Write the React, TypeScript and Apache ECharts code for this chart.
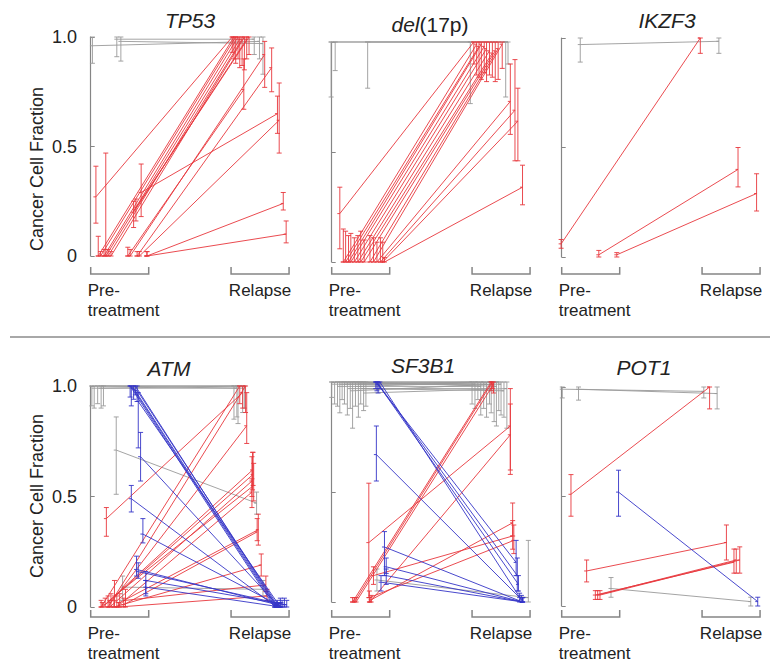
import React, { useEffect, useRef } from "react";
import * as echarts from "echarts";

// Each row: [preX, preCCF, preLow, preHigh, relX, relCCF, relLow, relHigh]
// preX / relX are jitter positions inside the Pre-treatment / Relapse brackets (0..1)
const TP53_GRAY = [
  [0.03, 0.96, 0.88, 1.0, 0.49, 0.98, 0.9, 1.0],
  [0.45, 0.99, 0.91, 1.0, 0.4, 0.99, 0.92, 1.0],
  [0.52, 0.98, 0.89, 1.0, 0.55, 0.97, 0.83, 1.0],
];
const TP53_RED = [
  [0.09, 0.27, 0.15, 0.41, 0.02, 1.0, 0.93, 1.0],
  [0.13, 0, 0, 0.09, 0.05, 1.0, 0.9, 1.0],
  [0.17, 0, 0, 0.02, 0.08, 1.0, 0.88, 1.0],
  [0.23, 0, 0, 0.03, 0.12, 1.0, 0.9, 1.0],
  [0.26, 0, 0, 0.47, 0.15, 0.99, 0.86, 1.0],
  [0.3, 0, 0, 0.03, 0.19, 0.99, 0.87, 1.0],
  [0.35, 0, 0, 0.02, 0.23, 1.0, 0.85, 1.0],
  [0.74, 0.2, 0.13, 0.25, 0.27, 0.99, 0.9, 1.0],
  [0.78, 0.22, 0.16, 0.26, 0.31, 1.0, 0.92, 1.0],
  [0.64, 0, 0, 0.04, 0.22, 0.76, 0.67, 0.9],
  [0.68, 0, 0, 0.03, 0.58, 0.92, 0.77, 0.98],
  [0.8, 0, 0, 0.02, 0.7, 0.86, 0.75, 0.95],
  [0.87, 0.29, 0.18, 0.42, 0.8, 0.65, 0.56, 0.73],
  [0.84, 0, 0, 0.02, 0.83, 0.62, 0.47, 0.79],
  [0.97, 0, 0, 0.02, 0.9, 0.24, 0.21, 0.29],
  [0.97, 0, 0, 0.02, 0.95, 0.1, 0.06, 0.16],
];
const TP53_BLUE: number[][] = [];

const DEL17P_GRAY = [
  [-0.01, 1.0, 0.75, 1.0, -0.03, 1.0, 0.72, 1.0],
  [0.06, 1.0, 0.87, 1.0, 0.58, 1.0, 0.75, 1.0],
  [0.62, 1.0, 0.79, 1.0, 0.62, 1.0, 0.9, 1.0],
];
const DEL17P_RED = [
  [0.14, 0.22, 0.06, 0.34, 0.03, 1.0, 0.9, 1.0],
  [0.2, 0, 0, 0.15, 0.08, 0.99, 0.85, 1.0],
  [0.24, 0, 0, 0.14, 0.12, 0.98, 0.84, 1.0],
  [0.29, 0, 0, 0.12, 0.16, 0.99, 0.83, 1.0],
  [0.33, 0, 0, 0.13, 0.21, 0.98, 0.86, 1.0],
  [0.39, 0, 0, 0.11, 0.25, 0.97, 0.82, 1.0],
  [0.45, 0, 0, 0.12, 0.3, 0.96, 0.85, 1.0],
  [0.5, 0, 0, 0.14, 0.35, 0.95, 0.84, 1.0],
  [0.56, 0, 0, 0.1, 0.4, 0.96, 0.82, 1.0],
  [0.66, 0, 0, 0.12, 0.45, 0.97, 0.83, 1.0],
  [0.72, 0, 0, 0.11, 0.52, 0.99, 0.88, 1.0],
  [0.78, 0, 0, 0.09, 0.66, 0.73, 0.58, 0.9],
  [0.84, 0, 0, 0.11, 0.74, 0.69, 0.46, 0.92],
  [0.88, 0, 0, 0.09, 0.79, 0.64, 0.46, 0.79],
  [0.91, 0, 0, 0.02, 0.87, 0.34, 0.26, 0.44],
];
const DEL17P_BLUE: number[][] = [];

const IKZF3_GRAY = [[0.32, 0.97, 0.89, 1.0, 0.29, 0.985, 0.93, 1.0]];
const IKZF3_RED = [
  [-0.01, 0.06, 0.04, 0.08, -0.03, 1.0, 0.93, 1.0],
  [0.64, 0.01, 0, 0.03, 0.62, 0.4, 0.32, 0.5],
  [0.95, 0.01, 0, 0.02, 0.94, 0.29, 0.21, 0.38],
];
const IKZF3_BLUE: number[][] = [];

const ATM_GRAY = [
  [0.02, 1.0, 0.91, 1.0, 0.05, 1.0, 0.85, 1.0],
  [0.06, 0.99, 0.9, 1.0, 0.1, 0.99, 0.86, 1.0],
  [0.12, 1.0, 0.92, 1.0, 0.12, 1.0, 0.83, 1.0],
  [0.18, 0.99, 0.9, 1.0, 0.2, 1.0, 0.88, 1.0],
  [0.22, 1.0, 0.91, 1.0, 0.23, 0.99, 0.9, 1.0],
  [0.44, 0.71, 0.51, 0.86, 0.44, 0.47, 0.42, 0.52],
  [0.55, 0.09, 0.03, 0.14, 0.55, 0.08, 0.05, 0.12],
];
const ATM_RED = [
  [0.27, 0.4, 0.32, 0.45, 0.2, 0.97, 0.9, 1.0],
  [0.18, 0, 0, 0.03, 0.15, 1.0, 0.92, 1.0],
  [0.3, 0, 0, 0.05, 0.25, 1.0, 0.88, 1.0],
  [0.35, 0.02, 0, 0.06, 0.27, 0.82, 0.74, 0.97],
  [0.2, 0, 0, 0.02, 0.37, 0.62, 0.53, 0.7],
  [0.25, 0.01, 0, 0.04, 0.38, 0.6, 0.55, 0.7],
  [0.33, 0, 0, 0.03, 0.36, 0.57, 0.5, 0.68],
  [0.41, 0.05, 0, 0.12, 0.39, 0.55, 0.48, 0.65],
  [0.45, 0, 0, 0.05, 0.36, 0.52, 0.45, 0.58],
  [0.5, 0.02, 0, 0.06, 0.47, 0.35, 0.28, 0.42],
  [0.57, 0.01, 0, 0.04, 0.45, 0.34, 0.3, 0.4],
  [0.4, 0, 0, 0.03, 0.52, 0.19, 0.14, 0.24],
  [0.6, 0.03, 0, 0.08, 0.6, 0.1, 0.07, 0.14],
  [0.48, 0, 0, 0.02, 0.62, 0.05, 0.03, 0.08],
];
const ATM_BLUE = [
  [0.68, 1.0, 0.95, 1.0, 0.75, 0, 0, 0.01],
  [0.7, 1.0, 0.91, 1.0, 0.77, 0, 0, 0.02],
  [0.74, 0.99, 0.94, 1.0, 0.79, 0, 0, 0.01],
  [0.77, 1.0, 0.96, 1.0, 0.8, 0, 0, 0.03],
  [0.8, 0.98, 0.93, 1.0, 0.82, 0, 0, 0.02],
  [0.82, 0.93, 0.72, 0.97, 0.85, 0, 0, 0.04],
  [0.86, 0.68, 0.57, 0.79, 0.83, 0, 0, 0.02],
  [0.7, 0.49, 0.43, 0.55, 0.78, 0, 0, 0.01],
  [0.9, 0.33, 0.29, 0.4, 0.88, 0, 0, 0.03],
  [0.79, 0.17, 0.14, 0.23, 0.8, 0.01, 0, 0.02],
  [0.82, 0.16, 0.13, 0.2, 0.92, 0.01, 0, 0.04],
  [0.95, 0.12, 0.05, 0.16, 0.96, 0.01, 0, 0.03],
  [0.95, 0.09, 0.06, 0.12, 0.86, 0, 0, 0.02],
];

const SF3B1_GRAY = [
  [0.0, 1.0, 0.93, 1.0, 0.0, 1.0, 0.9, 1.0],
  [0.05, 0.99, 0.9, 1.0, 0.05, 0.99, 0.88, 1.0],
  [0.1, 1.0, 0.89, 1.0, 0.1, 1.0, 0.92, 1.0],
  [0.14, 0.98, 0.86, 1.0, 0.15, 0.98, 0.85, 1.0],
  [0.18, 0.99, 0.92, 1.0, 0.2, 1.0, 0.88, 1.0],
  [0.22, 1.0, 0.9, 1.0, 0.25, 0.99, 0.84, 1.0],
  [0.27, 0.99, 0.85, 1.0, 0.3, 1.0, 0.9, 1.0],
  [0.32, 0.97, 0.88, 1.0, 0.33, 0.97, 0.86, 1.0],
  [0.36, 0.96, 0.79, 1.0, 0.38, 0.99, 0.82, 1.0],
  [0.41, 1.0, 0.89, 1.0, 0.42, 0.98, 0.8, 1.0],
  [0.46, 0.98, 0.84, 1.0, 0.46, 1.0, 0.87, 1.0],
  [0.5, 0.99, 0.9, 1.0, 0.5, 0.99, 0.85, 1.0],
  [0.55, 0.97, 0.87, 1.0, 0.55, 0.96, 0.84, 1.0],
  [0.59, 0.95, 0.89, 1.0, 0.6, 0.97, 0.79, 1.0],
  [0.78, 0.1, 0.05, 0.15, 0.97, 0.02, 0, 0.28],
];
const SF3B1_RED = [
  [0.36, 0, 0, 0.02, 0.33, 1.0, 0.96, 1.0],
  [0.39, 0, 0, 0.02, 0.35, 1.0, 0.97, 1.0],
  [0.42, 0, 0, 0.02, 0.37, 0.99, 0.95, 1.0],
  [0.64, 0.27, 0.02, 0.54, 0.66, 0.8, 0.58, 0.97],
  [0.66, 0, 0, 0.02, 0.66, 0.76, 0.6, 0.9],
  [0.68, 0.01, 0, 0.03, 0.7, 0.36, 0.3, 0.45],
  [0.72, 0.12, 0.08, 0.16, 0.7, 0.3, 0.24, 0.37],
  [0.65, 0.02, 0, 0.05, 0.72, 0.28, 0.22, 0.35],
];
const SF3B1_BLUE = [
  [0.76, 1.0, 0.97, 1.0, 0.76, 0.18, 0.12, 0.28],
  [0.78, 1.0, 0.96, 1.0, 0.78, 0.12, 0.05, 0.2],
  [0.8, 0.99, 0.95, 1.0, 0.8, 0.08, 0.05, 0.12],
  [0.83, 1.0, 0.97, 1.0, 0.85, 0.01, 0, 0.03],
  [0.77, 0.67, 0.55, 0.8, 0.82, 0.02, 0, 0.04],
  [0.91, 0.25, 0.12, 0.32, 0.87, 0, 0, 0.02],
  [0.94, 0.16, 0.13, 0.2, 0.87, 0, 0, 0.02],
  [0.94, 0.12, 0.08, 0.15, 0.87, 0, 0, 0.02],
  [0.85, 0.09, 0.05, 0.12, 0.88, 0, 0, 0.02],
];

const POT1_GRAY = [
  [0.01, 0.99, 0.95, 1.0, 0.03, 0.98, 0.95, 1.0],
  [0.29, 0.99, 0.94, 1.0, 0.26, 0.97, 0.9, 1.0],
  [0.85, 0.08, 0.04, 0.13, 0.84, 0.02, 0, 0.04],
];
const POT1_RED = [
  [0.16, 0.51, 0.41, 0.6, 0.13, 1.0, 0.9, 1.0],
  [0.43, 0.16, 0.11, 0.21, 0.42, 0.29, 0.21, 0.37],
  [0.58, 0.05, 0.03, 0.07, 0.55, 0.2, 0.15, 0.26],
  [0.62, 0.05, 0.03, 0.07, 0.59, 0.21, 0.15, 0.26],
  [0.66, 0.05, 0.03, 0.07, 0.65, 0.21, 0.15, 0.27],
];
const POT1_BLUE = [[0.98, 0.52, 0.41, 0.62, 0.96, 0.02, 0, 0.04]];

const Y_TICKS = [0, 0.5, 1.0];
const Y_TICK_LABELS = ["0", "0.5", "1.0"];
const X_LABEL_PRE = "Pre-\ntreatment";
const X_LABEL_REL = "Relapse";
const Y_NAME = "Cancer Cell Fraction";

const REL_OFFSET = 2.42;
const X_MIN = -0.15;
const X_MAX = 3.5;
const UNIT = 58;

const C_GRAY = "#9a9a9a";
const C_RED = "#e8373d";
const C_BLUE = "#3535c8";
const C_AXIS = "#858585";
const C_TEXT = "#222222";
const FONT = "Liberation Sans, Arial, Helvetica, sans-serif";

const PANELS = [
  { title: "TP53", gray: TP53_GRAY, red: TP53_RED, blue: TP53_BLUE, left: 82, top: 37, height: 219, bracketY: 274, titleX: 190, titleY: 20, yLabels: true },
  { title: "del(17p)", gray: DEL17P_GRAY, red: DEL17P_RED, blue: DEL17P_BLUE, left: 323, top: 42, height: 220, bracketY: 274, titleX: 430, titleY: 24, yLabels: false },
  { title: "IKZF3", gray: IKZF3_GRAY, red: IKZF3_RED, blue: IKZF3_BLUE, left: 553, top: 38, height: 219, bracketY: 274, titleX: 667, titleY: 20, yLabels: false },
  { title: "ATM", gray: ATM_GRAY, red: ATM_RED, blue: ATM_BLUE, left: 82, top: 386, height: 221, bracketY: 617, titleX: 169, titleY: 368, yLabels: true },
  { title: "SF3B1", gray: SF3B1_GRAY, red: SF3B1_RED, blue: SF3B1_BLUE, left: 323, top: 382, height: 220, bracketY: 617, titleX: 423, titleY: 365, yLabels: false },
  { title: "POT1", gray: POT1_GRAY, red: POT1_RED, blue: POT1_BLUE, left: 553, top: 387, height: 219, bracketY: 617, titleX: 644, titleY: 367, yLabels: false },
];

function toData(rows: number[][]) {
  return rows.map((r) => [r[0], r[1], r[2], r[3], r[4] + REL_OFFSET, r[5], r[6], r[7]]);
}

function errorBar(api: any, x: number, y: number, lo: number, hi: number, style: any) {
  const c = api.coord([x, y]);
  const a = api.coord([x, lo]);
  const b = api.coord([x, hi]);
  const cap = 2.5;
  return [
    { type: "line", shape: { x1: a[0], y1: a[1], x2: b[0], y2: b[1] }, style },
    { type: "line", shape: { x1: a[0] - cap, y1: a[1], x2: a[0] + cap, y2: a[1] }, style },
    { type: "line", shape: { x1: b[0] - cap, y1: b[1], x2: b[0] + cap, y2: b[1] }, style },
    { type: "line", shape: { x1: c[0] - cap, y1: c[1], x2: c[0], y2: c[1] }, style },
  ];
}

function renderRow(params: any, api: any) {
  const color = api.visual("color");
  const style = { stroke: color, lineWidth: 1, opacity: 0.9, fill: null };
  const px = api.value(0), py = api.value(1), pl = api.value(2), ph = api.value(3);
  const rx = api.value(4), ry = api.value(5), rl = api.value(6), rh = api.value(7);
  const p = api.coord([px, py]);
  const r = api.coord([rx, ry]);
  return {
    type: "group",
    children: [
      { type: "line", shape: { x1: p[0], y1: p[1], x2: r[0], y2: r[1] }, style },
      ...errorBar(api, px, py, pl, ph, style),
      ...errorBar(api, rx, ry, rl, rh, style),
    ],
  };
}

function makeBracketRender(bracketY: number) {
  return (params: any, api: any) => {
    const a = api.coord([api.value(0), 0])[0];
    const b = api.coord([api.value(1), 0])[0];
    const lineStyle = { stroke: C_AXIS, lineWidth: 1.5, fill: null };
    const children: any[] = [
      {
        type: "polyline",
        shape: { points: [[a, bracketY - 7], [a, bracketY], [b, bracketY], [b, bracketY - 7]] },
        style: lineStyle,
      },
    ];
    const ts = { fill: C_TEXT, fontSize: 17, fontFamily: FONT, lineHeight: 20, verticalAlign: "top" };
    if (params.dataIndex === 0) {
      children.push({ type: "text", x: a - 3, y: bracketY + 6, style: { ...ts, text: X_LABEL_PRE, align: "left" } });
    } else {
      children.push({ type: "text", x: (a + b) / 2, y: bracketY + 6, style: { ...ts, text: X_LABEL_REL, align: "center" } });
    }
    return { type: "group", children };
  };
}

export default function App() {
  const ref = useRef<HTMLDivElement>(null);
  useEffect(() => {
    if (!ref.current) return;
    const chart = echarts.init(ref.current, null, { renderer: "svg" });
    const grid: any[] = [];
    const xAxis: any[] = [];
    const yAxis: any[] = [];
    const series: any[] = [];
    const graphic: any[] = [];
    PANELS.forEach((p, i) => {
      grid.push({ left: p.left, top: p.top, width: (X_MAX - X_MIN) * UNIT, height: p.height });
      xAxis.push({ gridIndex: i, type: "value", min: X_MIN, max: X_MAX, show: false });
      yAxis.push({
        gridIndex: i,
        type: "value",
        min: 0,
        max: 1,
        interval: 0.5,
        axisLine: { show: true, lineStyle: { color: C_AXIS, width: 1.2 } },
        axisTick: { show: true, inside: true, length: 4, lineStyle: { color: C_AXIS } },
        splitLine: { show: false },
        axisLabel: {
          show: p.yLabels,
          margin: 5,
          fontSize: 18,
          color: C_TEXT,
          fontFamily: FONT,
          formatter: (v: number) => Y_TICK_LABELS[Y_TICKS.indexOf(v)] ?? String(v),
        },
      });
      const groups: [number[][], string][] = [
        [p.gray, C_GRAY],
        [p.red, C_RED],
        [p.blue, C_BLUE],
      ];
      groups.forEach(([rows, color]) => {
        if (!rows.length) return;
        series.push({
          type: "custom",
          coordinateSystem: "cartesian2d",
          xAxisIndex: i,
          yAxisIndex: i,
          clip: false,
          itemStyle: { color },
          encode: { x: [0, 4], y: [1, 2, 3, 5, 6, 7] },
          renderItem: renderRow,
          data: toData(rows),
          silent: true,
        });
      });
      series.push({
        type: "custom",
        coordinateSystem: "cartesian2d",
        xAxisIndex: i,
        yAxisIndex: i,
        clip: false,
        encode: { x: [0, 1] },
        renderItem: makeBracketRender(p.bracketY),
        data: [
          [0, 1],
          [REL_OFFSET, REL_OFFSET + 1],
        ],
        silent: true,
      });
      const isDel = p.title.startsWith("del");
      graphic.push({
        type: "text",
        x: p.titleX,
        y: p.titleY,
        style: isDel
          ? {
              text: "{i|del}{n|(17p)}",
              align: "center",
              verticalAlign: "middle",
              rich: {
                i: { fontSize: 21, fontStyle: "italic", fontFamily: FONT, fill: C_TEXT },
                n: { fontSize: 21, fontFamily: FONT, fill: C_TEXT },
              },
            }
          : {
              text: p.title,
              align: "center",
              verticalAlign: "middle",
              fontSize: 21,
              fontStyle: "italic",
              fontFamily: FONT,
              fill: C_TEXT,
            },
      });
    });
    graphic.push({
      type: "text",
      x: 37,
      y: 169,
      rotation: Math.PI / 2,
      style: { text: Y_NAME, align: "center", verticalAlign: "middle", fontSize: 18, fontFamily: FONT, fill: C_TEXT },
    });
    graphic.push({
      type: "text",
      x: 37,
      y: 496,
      rotation: Math.PI / 2,
      style: { text: Y_NAME, align: "center", verticalAlign: "middle", fontSize: 18, fontFamily: FONT, fill: C_TEXT },
    });
    graphic.push({
      type: "line",
      shape: { x1: 10, y1: 337, x2: 770, y2: 337 },
      style: { stroke: "#a8a8a8", lineWidth: 2 },
    });
    chart.setOption({
      animation: false,
      backgroundColor: "#ffffff",
      grid,
      xAxis,
      yAxis,
      series,
      graphic,
    });
    return () => chart.dispose();
  }, []);
  return <div ref={ref} style={{ width: 773, height: 661, position: "absolute", left: 0, top: 0 }} />;
}
